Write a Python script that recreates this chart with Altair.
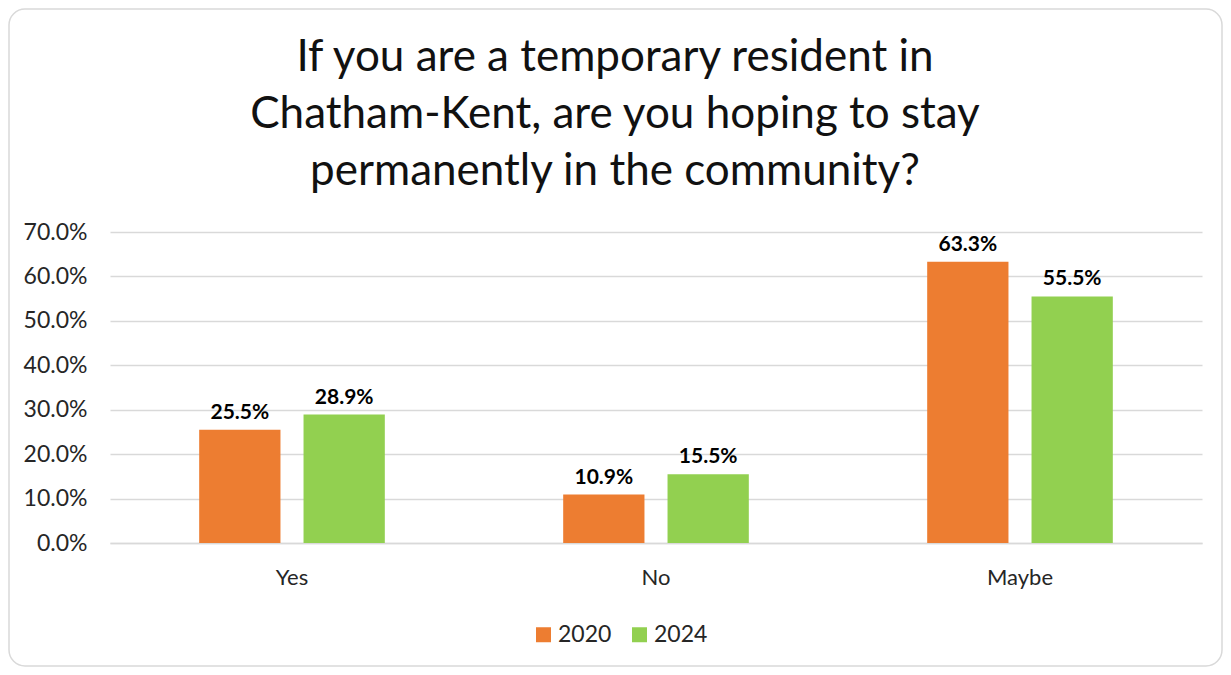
import altair as alt
import pandas as pd

categories = ["Yes", "No", "Maybe"]
years = ["2020", "2024"]
values_2020 = [0.255, 0.109, 0.633]
values_2024 = [0.289, 0.155, 0.555]
y_ticks = [0.0, 0.1, 0.2, 0.3, 0.4, 0.5, 0.6, 0.7]
colors = ["#ED7D31", "#92D050"]

rows = []
for c, a, b in zip(categories, values_2020, values_2024):
    rows.append({"category": c, "year": years[0], "value": a})
    rows.append({"category": c, "year": years[1], "value": b})
df = pd.DataFrame(rows)

FONT = "Lato"

x_enc = alt.X("category:N", sort=categories,
              scale=alt.Scale(paddingInner=0.49, paddingOuter=0.245),
              axis=alt.Axis(title=None, labelAngle=0, labelFontSize=22, labelFont=FONT,
                            labelColor="#262626", labelPadding=24, ticks=False,
                            domainColor="#d9d9d9", domainWidth=1.3, grid=False))
xoff_enc = alt.XOffset("year:N", sort=years,
                       scale=alt.Scale(paddingInner=0.221, paddingOuter=0))

base = alt.Chart(df)

bars = base.mark_bar().encode(
    x=x_enc,
    xOffset=xoff_enc,
    y=alt.Y("value:Q", scale=alt.Scale(domain=[0, 0.7], nice=False),
            axis=alt.Axis(title=None, format=".1%", values=y_ticks, labelFontSize=23,
                          labelFont=FONT, labelColor="#262626", labelPadding=23,
                          ticks=False, domain=False, gridColor="#d9d9d9", gridWidth=1.3)),
    color=alt.Color("year:N", sort=years, scale=alt.Scale(domain=years, range=colors),
                    legend=alt.Legend(title=None, orient="none", direction="horizontal",
                                      legendX=422, legendY=391, symbolType="square",
                                      symbolSize=225, symbolStrokeWidth=0,
                                      labelFontSize=23, labelFont=FONT, labelColor="#262626",
                                      columnPadding=16, labelOffset=3)),
)

labels = base.mark_text(fontSize=21, font=FONT, fontWeight="bold", color="#000000",
                        baseline="alphabetic", dy=-11).encode(
    x=alt.X("category:N", sort=categories),
    xOffset=alt.XOffset("year:N", sort=years),
    y="value:Q",
    text=alt.Text("value:Q", format=".1%"),
)

border = alt.Chart(pd.DataFrame({"a": [0]})).mark_rect(
    filled=False, stroke="#d9d9d9", strokeWidth=1.5, cornerRadius=16
).encode(x=alt.value(-101), x2=alt.value(1112), y=alt.value(-223), y2=alt.value(434))

chart = alt.layer(border, bars, labels).properties(
    width=1092, height=311,
    autosize=alt.AutoSizeParams(type="none"),
    padding={"left": 102, "top": 224, "right": 21, "bottom": 124},
    title=alt.TitleParams(
        text=["If you are a temporary resident in",
              "Chatham-Kent, are you hoping to stay",
              "permanently in the community?"],
        fontSize=44, font=FONT, fontWeight="normal", color="#111111",
        lineHeight=57, anchor="middle", dx=-41, offset=30,
        baseline="alphabetic", dy=251,
    ),
).configure_view(stroke=None)

chart.save("out.html", embed_options={"renderer": "svg", "actions": False})
